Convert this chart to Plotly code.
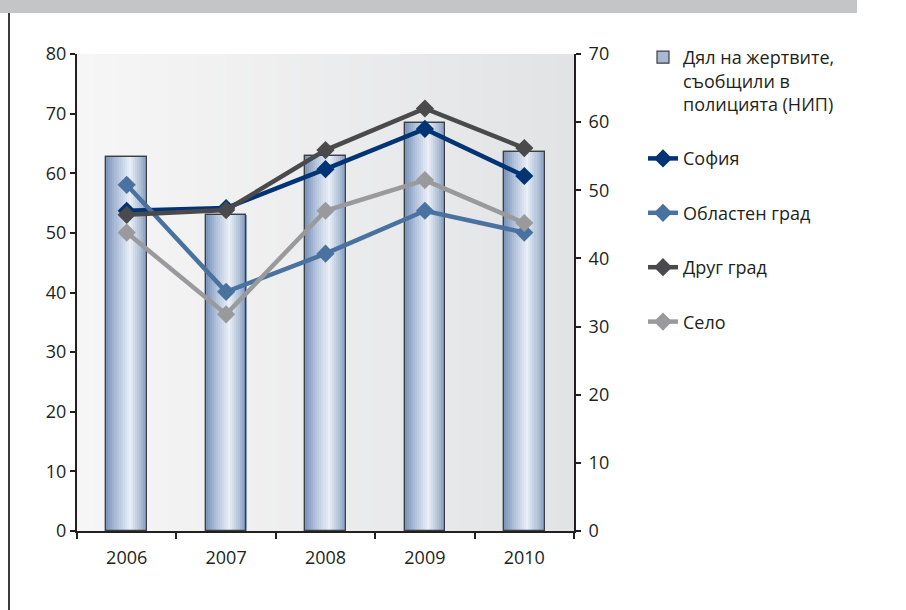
import plotly.graph_objects as go

years = ["2006", "2007", "2008", "2009", "2010"]
share_nip = [62.7, 53.0, 62.9, 68.5, 63.6]
sofia = [47.0, 47.4, 53.1, 59.0, 52.1]
oblasten = [50.8, 35.1, 40.7, 47.0, 43.8]
drug = [46.4, 47.1, 55.9, 62.0, 56.2]
selo = [43.8, 31.8, 47.0, 51.5, 45.2]

names = ["Дял на жертвите,<br>съобщили в<br>полицията (НИП)", "София", "Областен град", "Друг град", "Село"]

FONT = "Open Sans"
TXT = "#231f20"

# figure geometry (pixels)
W, H = 906, 610
L, R, T, B = 77, 574, 54, 531
PW, PH = R - L, B - T

def px(x):
    return (x - L) / PW

def py(y):
    return (B - y) / PH

fig = go.Figure()

bar_w = 0.41
# base bar (legend entry)
fig.add_trace(go.Bar(
    x=years, y=share_nip, width=bar_w, name=names[0],
    marker=dict(color="#a7b8d1", line=dict(color="#3b3f46", width=1.2)),
    legendgroup="g0", yaxis="y", hoverinfo="skip",
))

# gradient strips to imitate cylinder shading
stops = [(0.0, (122, 146, 184)), (0.25, (174, 192, 217)), (0.58, (235, 240, 247)),
         (0.85, (170, 188, 213)), (1.0, (126, 149, 186))]

def col(t):
    for i in range(len(stops) - 1):
        a, ca = stops[i]
        b, cb = stops[i + 1]
        if a <= t <= b:
            f = (t - a) / (b - a)
            c = [round(ca[k] + (cb[k] - ca[k]) * f) for k in range(3)]
            return "rgb(%d,%d,%d)" % tuple(c)
    return "rgb(%d,%d,%d)" % stops[-1][1]

N = 20
sw = bar_w / N
for i in range(N):
    t = (i + 0.5) / N
    fig.add_trace(go.Bar(
        x=years, y=share_nip, width=sw * 1.05, offset=-bar_w / 2 + i * sw,
        marker=dict(color=col(t), line=dict(width=0)),
        showlegend=False, legendgroup="g0", yaxis="y", hoverinfo="skip",
    ))

# outline on top
fig.add_trace(go.Bar(
    x=years, y=share_nip, width=bar_w,
    marker=dict(color="rgba(0,0,0,0)", line=dict(color="#3b3f46", width=1.2)),
    showlegend=False, legendgroup="g0", yaxis="y", hoverinfo="skip",
))

line_series = [(sofia, "#003474"), (oblasten, "#4a72a0"), (drug, "#4a4a4c"), (selo, "#9a9a9d")]
for k, (vals, c) in enumerate(line_series):
    fig.add_trace(go.Scatter(
        x=years, y=vals, name=names[k + 1], mode="lines+markers",
        line=dict(color=c, width=4.5),
        marker=dict(symbol="diamond", size=14, color=c),
        legendgroup="g%d" % (k + 1), yaxis="y2",
    ))

# background gradient of plot area
shapes = []
NS = 60
for i in range(NS):
    t = i / (NS - 1)
    c0 = (246, 246, 246)
    c1 = (226, 227, 229)
    c = tuple(round(c0[k] + (c1[k] - c0[k]) * t) for k in range(3))
    shapes.append(dict(type="rect", xref="paper", yref="paper",
                       x0=i / NS, x1=(i + 1) / NS + 0.002, y0=0, y1=1,
                       fillcolor="rgb(%d,%d,%d)" % c, line=dict(width=0), layer="below"))
# top grey band
shapes.append(dict(type="rect", xref="paper", yref="paper",
                   x0=px(0), x1=px(857), y0=py(0), y1=py(13),
                   fillcolor="#c4c5c7", line=dict(width=0), layer="above"))
# left vertical rule
shapes.append(dict(type="line", xref="paper", yref="paper",
                   x0=px(9), x1=px(9), y0=py(13), y1=py(610),
                   line=dict(color="#3a3a3a", width=2), layer="above"))

fig.update_layout(
    width=W, height=H,
    margin=dict(l=L, r=W - R, t=T, b=H - B, pad=0, autoexpand=False),
    paper_bgcolor="white", plot_bgcolor="#eeeeee",
    barmode="overlay", bargap=0,
    font=dict(family=FONT, size=18, color=TXT),
    shapes=shapes,
    showlegend=True,
    legend=dict(
        x=px(643), y=py(39), xanchor="left", yanchor="top",
        traceorder="grouped", tracegroupgap=28, valign="top",
        bgcolor="rgba(0,0,0,0)", font=dict(family=FONT, size=18, color=TXT),
        itemwidth=30,
    ),
    xaxis=dict(
        type="category", range=[-0.5, 4.5],
        showline=True, linecolor="#231f20", linewidth=2,
        ticks="outside", tickson="boundaries", ticklen=6, tickwidth=2, tickcolor="#231f20",
        showgrid=False, zeroline=False, tickfont=dict(size=18), ticklabelstandoff=9,
    ),
    yaxis=dict(
        range=[0, 80], dtick=10, showgrid=False, zeroline=False,
        showline=True, linecolor="#231f20", linewidth=2,
        ticks="outside", ticklen=5, tickwidth=2, tickcolor="#231f20",
        tickfont=dict(size=18),
    ),
    yaxis2=dict(
        range=[0, 70], dtick=10, overlaying="y", side="right",
        showgrid=False, zeroline=False,
        showline=True, linecolor="#231f20", linewidth=2,
        ticks="outside", ticklen=5, tickwidth=2, tickcolor="#231f20",
        tickfont=dict(size=18), ticklabelstandoff=4,
    ),
    hovermode=False,
)

fig.write_html("out.html", config={"displayModeBar": False},
               post_script="document.body.style.margin='0px';document.body.style.padding='0px';")
